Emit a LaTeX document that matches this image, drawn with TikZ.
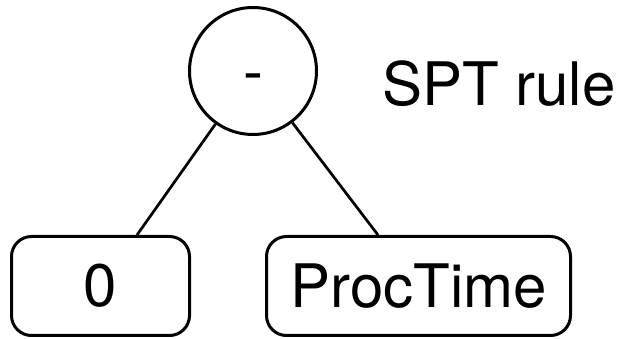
\documentclass[tikz,border=0pt]{standalone}
\usepackage{fontspec}
\setmainfont{TeX Gyre Heros}
\begin{document}
\begin{tikzpicture}[x=1pt,y=1pt,
  every node/.style={font=\fontsize{60}{72}\selectfont, inner sep=0pt},
  opnode/.style={draw, line width=3pt, circle, minimum size=127pt,
    text height=43pt, text depth=0pt},
  leafbox/.style={draw, line width=3pt, rounded corners=20pt,
    minimum height=99pt},
  edge/.style={line width=2.7pt}]
  \useasboundingbox (0,0) rectangle (622,-339);
  % operator node and its rule label
  \node[opnode] (op) at (253,-71) {-};
  \node[anchor=west] (rule) at (382,-83.5) {SPT rule};
  % leaves
  \node[leafbox, minimum width=178pt] (zero) at (100.5,-286) {0};
  \node[leafbox, minimum width=304pt] (proc) at (418.5,-286) {ProcTime};
  % edges
  \draw[edge] (op) -- ([xshift=36.5pt]zero.north);
  \draw[edge] (op) -- ([xshift=-40.5pt]proc.north);
\end{tikzpicture}
\end{document}
